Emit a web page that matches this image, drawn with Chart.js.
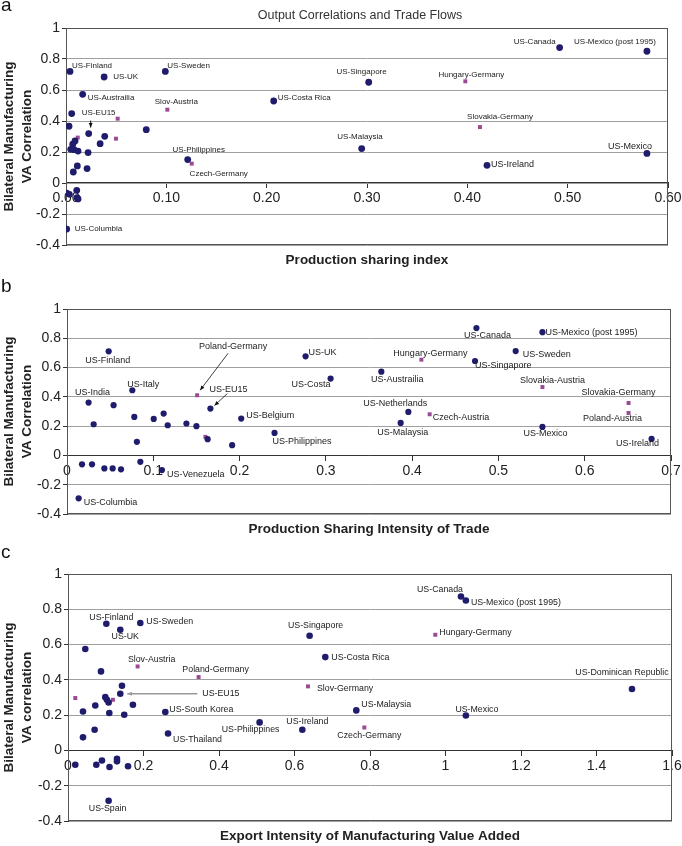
<!DOCTYPE html>
<html>
<head>
<meta charset="utf-8">
<title>Output Correlations and Trade Flows</title>
<script src="https://cdn.jsdelivr.net/npm/chart.js@4"></script>
<style>
    body { margin: 0; background: #fff; }
    .panel { position: absolute; left: 0; }
</style>
</head>
<body>
<canvas id="chartA" class="panel" width="682" height="272" style="top:0"></canvas>
<canvas id="chartB" class="panel" width="682" height="272" style="top:272px"></canvas>
<canvas id="chartC" class="panel" width="682" height="302" style="top:544px"></canvas>
<script>
// ---- panel a: production sharing index ----
const aDotNames = ['US-Finland', 'US-UK', 'US-Sweden', 'US-Austrailia', 'US-Costa Rica', '', 'US-EU15', '', '', '',
    '', '', '', '', '', '', '', '', '', '',
    '', '', '', '', '', 'US-Columbia', 'US-Canada', 'US-Mexico (post 1995)', 'US-Singapore', 'US-Malaysia',
    'US-Ireland', 'US-Mexico', 'US-Philippines'];
const aDotX = [0.004, 0.038, 0.099, 0.0166, 0.207, 0.0057, 0.0226, 0.080, 0.003, 0.0386,
    0.034, 0.009, 0.0067, 0.0047, 0.008, 0.012, 0.022, 0.0113, 0.0073, 0.021,
    0.0107, 0.0007, 0.0033, 0.011, 0.012, 0.0007, 0.492, 0.579, 0.3017, 0.2947,
    0.4196, 0.579, 0.1213];
const aDotY = [0.72, 0.684, 0.72, 0.572, 0.529, 0.448, 0.319, 0.344, 0.366, 0.301,
    0.254, 0.271, 0.25, 0.217, 0.215, 0.206, 0.196, 0.11, 0.071, 0.093,
    -0.047, -0.065, -0.073, -0.094, -0.103, -0.297, 0.874, 0.85, 0.65, 0.222,
    0.114, 0.191, 0.151];
const aSqNames = ['', 'Slov-Austria', '', '', 'Hungary-Germany', 'Slovakia-Germany', 'Czech-Germany'];
const aSqX = [0.0515, 0.101, 0.0498, 0.0117, 0.398, 0.4126, 0.1253];
const aSqY = [0.415, 0.473, 0.286, 0.293, 0.656, 0.361, 0.125];

// ---- panel b: production sharing intensity of trade ----
const bDotNames = ['US-Finland', 'US-India', 'US-Italy', '', '', '', '', '', '', '',
    '', '', 'US-EU15', '', '', 'US-Belgium', 'US-Philippines', 'US-UK', 'US-Costa', '',
    '', '', '', '', '', 'US-Venezuela', 'US-Columbia', 'US-Canada', 'US-Mexico (post 1995)', 'US-Sweden',
    'US-Singapore', 'US-Austrailia', 'US-Netherlands', 'US-Malaysia', 'US-Mexico', 'US-Ireland'];
const bDotX = [0.0483, 0.025, 0.0757, 0.0309, 0.054, 0.078, 0.081, 0.1005, 0.112, 0.1167,
    0.1384, 0.15, 0.1662, 0.163, 0.1914, 0.2019, 0.2405, 0.2765, 0.3055, 0.0174,
    0.029, 0.0433, 0.0529, 0.0626, 0.085, 0.110, 0.0135, 0.4745, 0.551, 0.520,
    0.4729, 0.3643, 0.3956, 0.3867, 0.551, 0.6775];
const bDotY = [0.711, 0.361, 0.445, 0.213, 0.343, 0.263, 0.093, 0.249, 0.286, 0.206,
    0.218, 0.2, 0.32, 0.111, 0.07, 0.252, 0.154, 0.677, 0.525, -0.061,
    -0.061, -0.089, -0.089, -0.095, -0.044, -0.1, -0.293, 0.87, 0.842, 0.713,
    0.645, 0.572, 0.297, 0.222, 0.195, 0.113];
const bSqNames = ['Poland-Germany', '', 'Hungary-Germany', 'Slovakia-Austria', 'Slovakia-Germany', 'Poland-Austria', 'Czech-Austria'];
const bSqX = [0.1508, 0.1604, 0.4107, 0.551, 0.6508, 0.6508, 0.4203];
const bSqY = [0.411, 0.127, 0.654, 0.467, 0.358, 0.290, 0.281];

// ---- panel c: export intensity of manufacturing value added ----
const cDotNames = ['US-Finland', 'US-Sweden', 'US-UK', '', '', '', 'US-EU15', '', '', '',
    '', '', '', '', '', 'US-South Korea', '', '', 'US-Thailand', 'US-Philippines',
    'US-Ireland', 'US-Singapore', 'US-Costa Rica', '', '', '', '', '', '', '',
    'US-Spain', 'US-Canada', 'US-Mexico (post 1995)', 'US-Dominican Republic', 'US-Malaysia', 'US-Mexico'];
const cDotX = [0.1015, 0.1915, 0.1385, 0.0458, 0.0874, 0.143, 0.1385, 0.0988, 0.103, 0.1076,
    0.0723, 0.172, 0.0397, 0.1094, 0.149, 0.2578, 0.0705, 0.0397, 0.265, 0.5076,
    0.6207, 0.64, 0.6816, 0.0193, 0.075, 0.09, 0.110, 0.1298, 0.1298, 0.159,
    0.1076, 1.041, 1.054, 1.494, 0.7637, 1.054];
const cDotY = [0.718, 0.722, 0.684, 0.575, 0.448, 0.367, 0.321, 0.302, 0.287, 0.272,
    0.255, 0.259, 0.221, 0.212, 0.202, 0.218, 0.117, 0.074, 0.096, 0.159,
    0.117, 0.65, 0.529, -0.081, -0.081, -0.057, -0.094, -0.047, -0.062, -0.09,
    -0.285, 0.8725, 0.85, 0.348, 0.227, 0.198];
const cSqNames = ['Slov-Austria', 'Poland-Germany', '', '', 'Slov-Germany', 'Hungary-Germany', 'Czech-Germany'];
const cSqX = [0.1844, 0.346, 0.0193, 0.119, 0.6357, 0.973, 0.785];
const cSqY = [0.476, 0.416, 0.297, 0.287, 0.363, 0.6555, 0.13];

// label placement: [dx, dy, align, fontSize?] relative to the point
const aLabelPlace = {
    'US-Finland': [2, -6, 'left'], 'US-UK': [9, 0, 'left'], 'US-Sweden': [2, -6, 'left'],
    'US-Austrailia': [5, 3, 'left'], 'US-Costa Rica': [4, -3, 'left'], 'US-EU15': [10, -21, 'center'],
    'Slov-Austria': [9, -8, 'center'], 'US-Columbia': [8, 0, 'left'], 'US-Canada': [-4, -6, 'right'],
    'US-Mexico (post 1995)': [-32, -9, 'center'], 'US-Singapore': [18, -10, 'right'],
    'Hungary-Germany': [6, -7, 'center'], 'Slovakia-Germany': [20, -10, 'center'],
    'US-Malaysia': [21, -12, 'right'], 'US-Ireland': [4, -1, 'left', 9], 'US-Mexico': [5, -7, 'right', 9],
    'US-Philippines': [11, -10, 'center'], 'Czech-Germany': [27, 10, 'center']
};
const bLabelPlace = {
    'US-Finland': [-1, 9, 'center'], 'US-India': [4, -10, 'center'], 'US-Italy': [11, -6, 'center'],
    'Poland-Germany': [36, -49, 'center'], 'US-EU15': [18, -19, 'center'], 'US-Belgium': [5, -3, 'left'],
    'US-Philippines': [-2, 9, 'left'], 'US-UK': [3, -4, 'left'], 'US-Costa': [0, 6, 'right'],
    'US-Venezuela': [5, 4, 'left'], 'US-Columbia': [5, 4, 'left'], 'US-Canada': [11, 7, 'center'],
    'US-Mexico (post 1995)': [3, 0, 'left'], 'US-Sweden': [7, 3, 'left'], 'US-Singapore': [0, 5, 'left'],
    'Hungary-Germany': [9, -6, 'center'], 'US-Austrailia': [16, 8, 'center'],
    'Slovakia-Austria': [10, -7, 'center'], 'Slovakia-Germany': [-10, -10, 'center'],
    'Poland-Austria': [-16, 6, 'center'], 'US-Netherlands': [-13, -8, 'center'],
    'Czech-Austria': [3, 3, 'left'], 'US-Malaysia': [2, 10, 'center'], 'US-Mexico': [3, 7, 'center'],
    'US-Ireland': [-14, 5, 'center']
};
const cLabelPlace = {
    'US-Finland': [5, -6, 'center'], 'US-Sweden': [6, -1, 'left'], 'US-UK': [5, 7, 'center'],
    'Slov-Austria': [14, -7, 'center'], 'Poland-Germany': [17, -7, 'center'], 'US-EU15': [82, 0, 'left'],
    'US-South Korea': [4, -2, 'left'], 'US-Thailand': [5, 6, 'left'], 'US-Philippines': [-9, 7, 'center'],
    'US-Ireland': [5, -8, 'center'], 'US-Singapore': [6, -10, 'center'], 'US-Costa Rica': [6, 0, 'left'],
    'Slov-Germany': [9, 2, 'left'], 'US-Spain': [-1, 8, 'center'], 'US-Canada': [-21, -7, 'center'],
    'US-Mexico (post 1995)': [5, 2, 'left'], 'Hungary-Germany': [4, -2, 'left'],
    'US-Dominican Republic': [-10, -16, 'center'], 'US-Malaysia': [5, -6, 'left'],
    'US-Mexico': [11, -6, 'center'], 'Czech-Germany': [5, 8, 'center']
};
// arrows: [x1, y1, x2, y2] relative to the point they point at
const aArrows = { 'US-EU15': [2, -13, 2, -6] };
const bArrows = { 'Poland-Germany': [31, -42, 3, -5], 'US-EU15': [17, -15, 4, -3] };
const cArrows = { 'US-EU15': [77, 0, 7, 0] };

const FONT = '"Liberation Sans", Arial, Helvetica, sans-serif';
const DOT_COLOR = '#201c6c';
const SQ_COLOR = '#9a4a94';

function drawArrow(ctx, x1, y1, x2, y2, color, width) {
    const ang = Math.atan2(y2 - y1, x2 - x1);
    ctx.strokeStyle = color;
    ctx.fillStyle = color;
    ctx.lineWidth = width;
    ctx.beginPath();
    ctx.moveTo(x1, y1);
    ctx.lineTo(x2, y2);
    ctx.stroke();
    ctx.beginPath();
    ctx.moveTo(x2, y2);
    ctx.lineTo(x2 - 5 * Math.cos(ang - 0.4), y2 - 5 * Math.sin(ang - 0.4));
    ctx.lineTo(x2 - 5 * Math.cos(ang + 0.4), y2 - 5 * Math.sin(ang + 0.4));
    ctx.closePath();
    ctx.fill();
}

// frame, panel letter, titles
const panelDecor = {
    id: 'panelDecor',
    beforeDatasetsDraw(chart) {
        const { ctx, chartArea: ca } = chart;
        ctx.save();
        ctx.strokeStyle = '#555';
        ctx.lineWidth = 1;
        ctx.strokeRect(Math.round(ca.left) + 0.5, Math.round(ca.top) + 0.5,
            Math.round(ca.right) - Math.round(ca.left) - 1, Math.round(ca.bottom) - Math.round(ca.top) - 1);
        ctx.restore();
    },
    afterDraw(chart, args, o) {
        const { ctx, chartArea: ca } = chart;
        ctx.save();
        ctx.fillStyle = '#111';
        ctx.font = '19px ' + FONT;
        ctx.textAlign = 'left';
        ctx.textBaseline = 'alphabetic';
        ctx.fillText(o.letter, 1, o.letterY);
        ctx.textAlign = 'center';
        ctx.textBaseline = 'middle';
        if (o.title) {
            ctx.font = '12.5px ' + FONT;
            ctx.fillStyle = '#333';
            ctx.fillText(o.title, 360, 16);
        }
        ctx.fillStyle = '#222';
        ctx.font = 'bold 13.5px ' + FONT;
        ctx.fillText(o.xTitle, (ca.left + ca.right) / 2, ca.bottom + 15);
        const cy = (ca.top + ca.bottom) / 2;
        o.yTitle.forEach((line, i) => {
            ctx.save();
            ctx.translate(9 + i * 18, cy);
            ctx.rotate(-Math.PI / 2);
            ctx.fillText(line, 0, 0);
            ctx.restore();
        });
        ctx.restore();
    }
};

// names next to points, plus arrows
const pointLabels = {
    id: 'pointLabels',
    afterDatasetsDraw(chart, args, o) {
        const ctx = chart.ctx;
        ctx.save();
        ctx.textBaseline = 'middle';
        chart.data.datasets.forEach((ds, i) => {
            chart.getDatasetMeta(i).data.forEach((pt, j) => {
                const name = ds.names[j];
                if (!name) return;
                const p = o.place[name] || [5, 0, 'left'];
                ctx.fillStyle = '#222';
                ctx.font = (p[3] || o.size) + 'px ' + FONT;
                ctx.textAlign = p[2];
                ctx.fillText(name, pt.x + p[0], pt.y + p[1]);
                const a = o.arrows[name];
                if (a) {
                    drawArrow(ctx, pt.x + a[0], pt.y + a[1], pt.x + a[2], pt.y + a[3], o.arrowColor, o.arrowWidth);
                }
            });
        });
        ctx.restore();
    }
};

function toPoints(xs, ys) {
    return xs.map((x, i) => ({ x: x, y: ys[i] }));
}

function makePanel(id, cfg) {
    const canvas = document.getElementById(id);
    return new Chart(canvas, {
        type: 'scatter',
        data: {
            datasets: [
                {
                    names: cfg.dotNames,
                    data: toPoints(cfg.dotX, cfg.dotY),
                    pointStyle: 'circle',
                    pointRadius: cfg.dotR,
                    backgroundColor: DOT_COLOR,
                    borderColor: DOT_COLOR,
                    borderWidth: 0
                },
                {
                    names: cfg.sqNames,
                    data: toPoints(cfg.sqX, cfg.sqY),
                    pointStyle: 'rect',
                    pointRadius: 2.8,
                    backgroundColor: SQ_COLOR,
                    borderColor: SQ_COLOR,
                    borderWidth: 0
                }
            ]
        },
        options: {
            responsive: false,
            animation: false,
            devicePixelRatio: 1,
            layout: {
                padding: {
                    left: 0,
                    top: cfg.area[1],
                    right: canvas.width - cfg.area[2],
                    bottom: canvas.height - cfg.area[3]
                }
            },
            plugins: {
                legend: { display: false },
                tooltip: { enabled: false },
                panelDecor: { letter: cfg.letter, letterY: cfg.letterY, title: cfg.title, xTitle: cfg.xTitle, yTitle: cfg.yTitle },
                pointLabels: { place: cfg.place, arrows: cfg.arrows, size: cfg.labelSize, arrowColor: cfg.arrowColor, arrowWidth: cfg.arrowWidth }
            },
            scales: {
                x: {
                    type: 'linear',
                    position: { y: 0 },
                    min: 0,
                    max: cfg.xMax,
                    ticks: {
                        stepSize: cfg.xStep,
                        autoSkip: false,
                        maxRotation: 0,
                        padding: 2,
                        color: '#222',
                        font: { family: FONT, size: 14 },
                        callback: cfg.xFmt
                    },
                    grid: { drawOnChartArea: false, tickLength: 5, tickColor: '#333' },
                    border: { color: '#333' },
                    afterFit: s => { s.paddingLeft = 0; s.paddingRight = 0; }
                },
                y: {
                    min: -0.4,
                    max: 1,
                    ticks: {
                        stepSize: 0.2,
                        padding: 2,
                        color: '#222',
                        font: { family: FONT, size: 14 },
                        callback: v => String(Math.round(v * 10) / 10)
                    },
                    grid: { color: '#a0a0a0', tickLength: 4, tickColor: '#333' },
                    border: { color: '#333' },
                    afterFit: s => { s.width = cfg.area[0]; }
                }
            }
        },
        plugins: [panelDecor, pointLabels]
    });
}

makePanel('chartA', {
    dotNames: aDotNames, dotX: aDotX, dotY: aDotY, sqNames: aSqNames, sqX: aSqX, sqY: aSqY,
    dotR: 3.4, area: [66, 28, 668, 245], xMax: 0.6, xStep: 0.1, xFmt: v => v.toFixed(2),
    letter: 'a', letterY: 11, title: 'Output Correlations and Trade Flows',
    xTitle: 'Production sharing index', yTitle: ['Bilateral Manufacturing', 'VA Correlation'],
    place: aLabelPlace, arrows: aArrows, labelSize: 8, arrowColor: '#111', arrowWidth: 1
});

makePanel('chartB', {
    dotNames: bDotNames, dotX: bDotX, dotY: bDotY, sqNames: bSqNames, sqX: bSqX, sqY: bSqY,
    dotR: 3.1, area: [67, 37, 671, 242], xMax: 0.7, xStep: 0.1, xFmt: v => String(Math.round(v * 10) / 10),
    letter: 'b', letterY: 20, title: '',
    xTitle: 'Production Sharing Intensity of Trade', yTitle: ['Bilateral Manufacturing', 'VA Correlation'],
    place: bLabelPlace, arrows: bArrows, labelSize: 9, arrowColor: '#111', arrowWidth: 0.8
});

makePanel('chartC', {
    dotNames: cDotNames, dotX: cDotX, dotY: cDotY, sqNames: cSqNames, sqX: cSqX, sqY: cSqY,
    dotR: 3.3, area: [68, 30, 672, 277], xMax: 1.6, xStep: 0.2, xFmt: v => String(Math.round(v * 10) / 10),
    letter: 'c', letterY: 14, title: '',
    xTitle: 'Export Intensity of Manufacturing Value Added', yTitle: ['Bilateral Manufacturing', 'VA correlation'],
    place: cLabelPlace, arrows: cArrows, labelSize: 8.8, arrowColor: '#999', arrowWidth: 1.5
});
</script>
</body>
</html>
